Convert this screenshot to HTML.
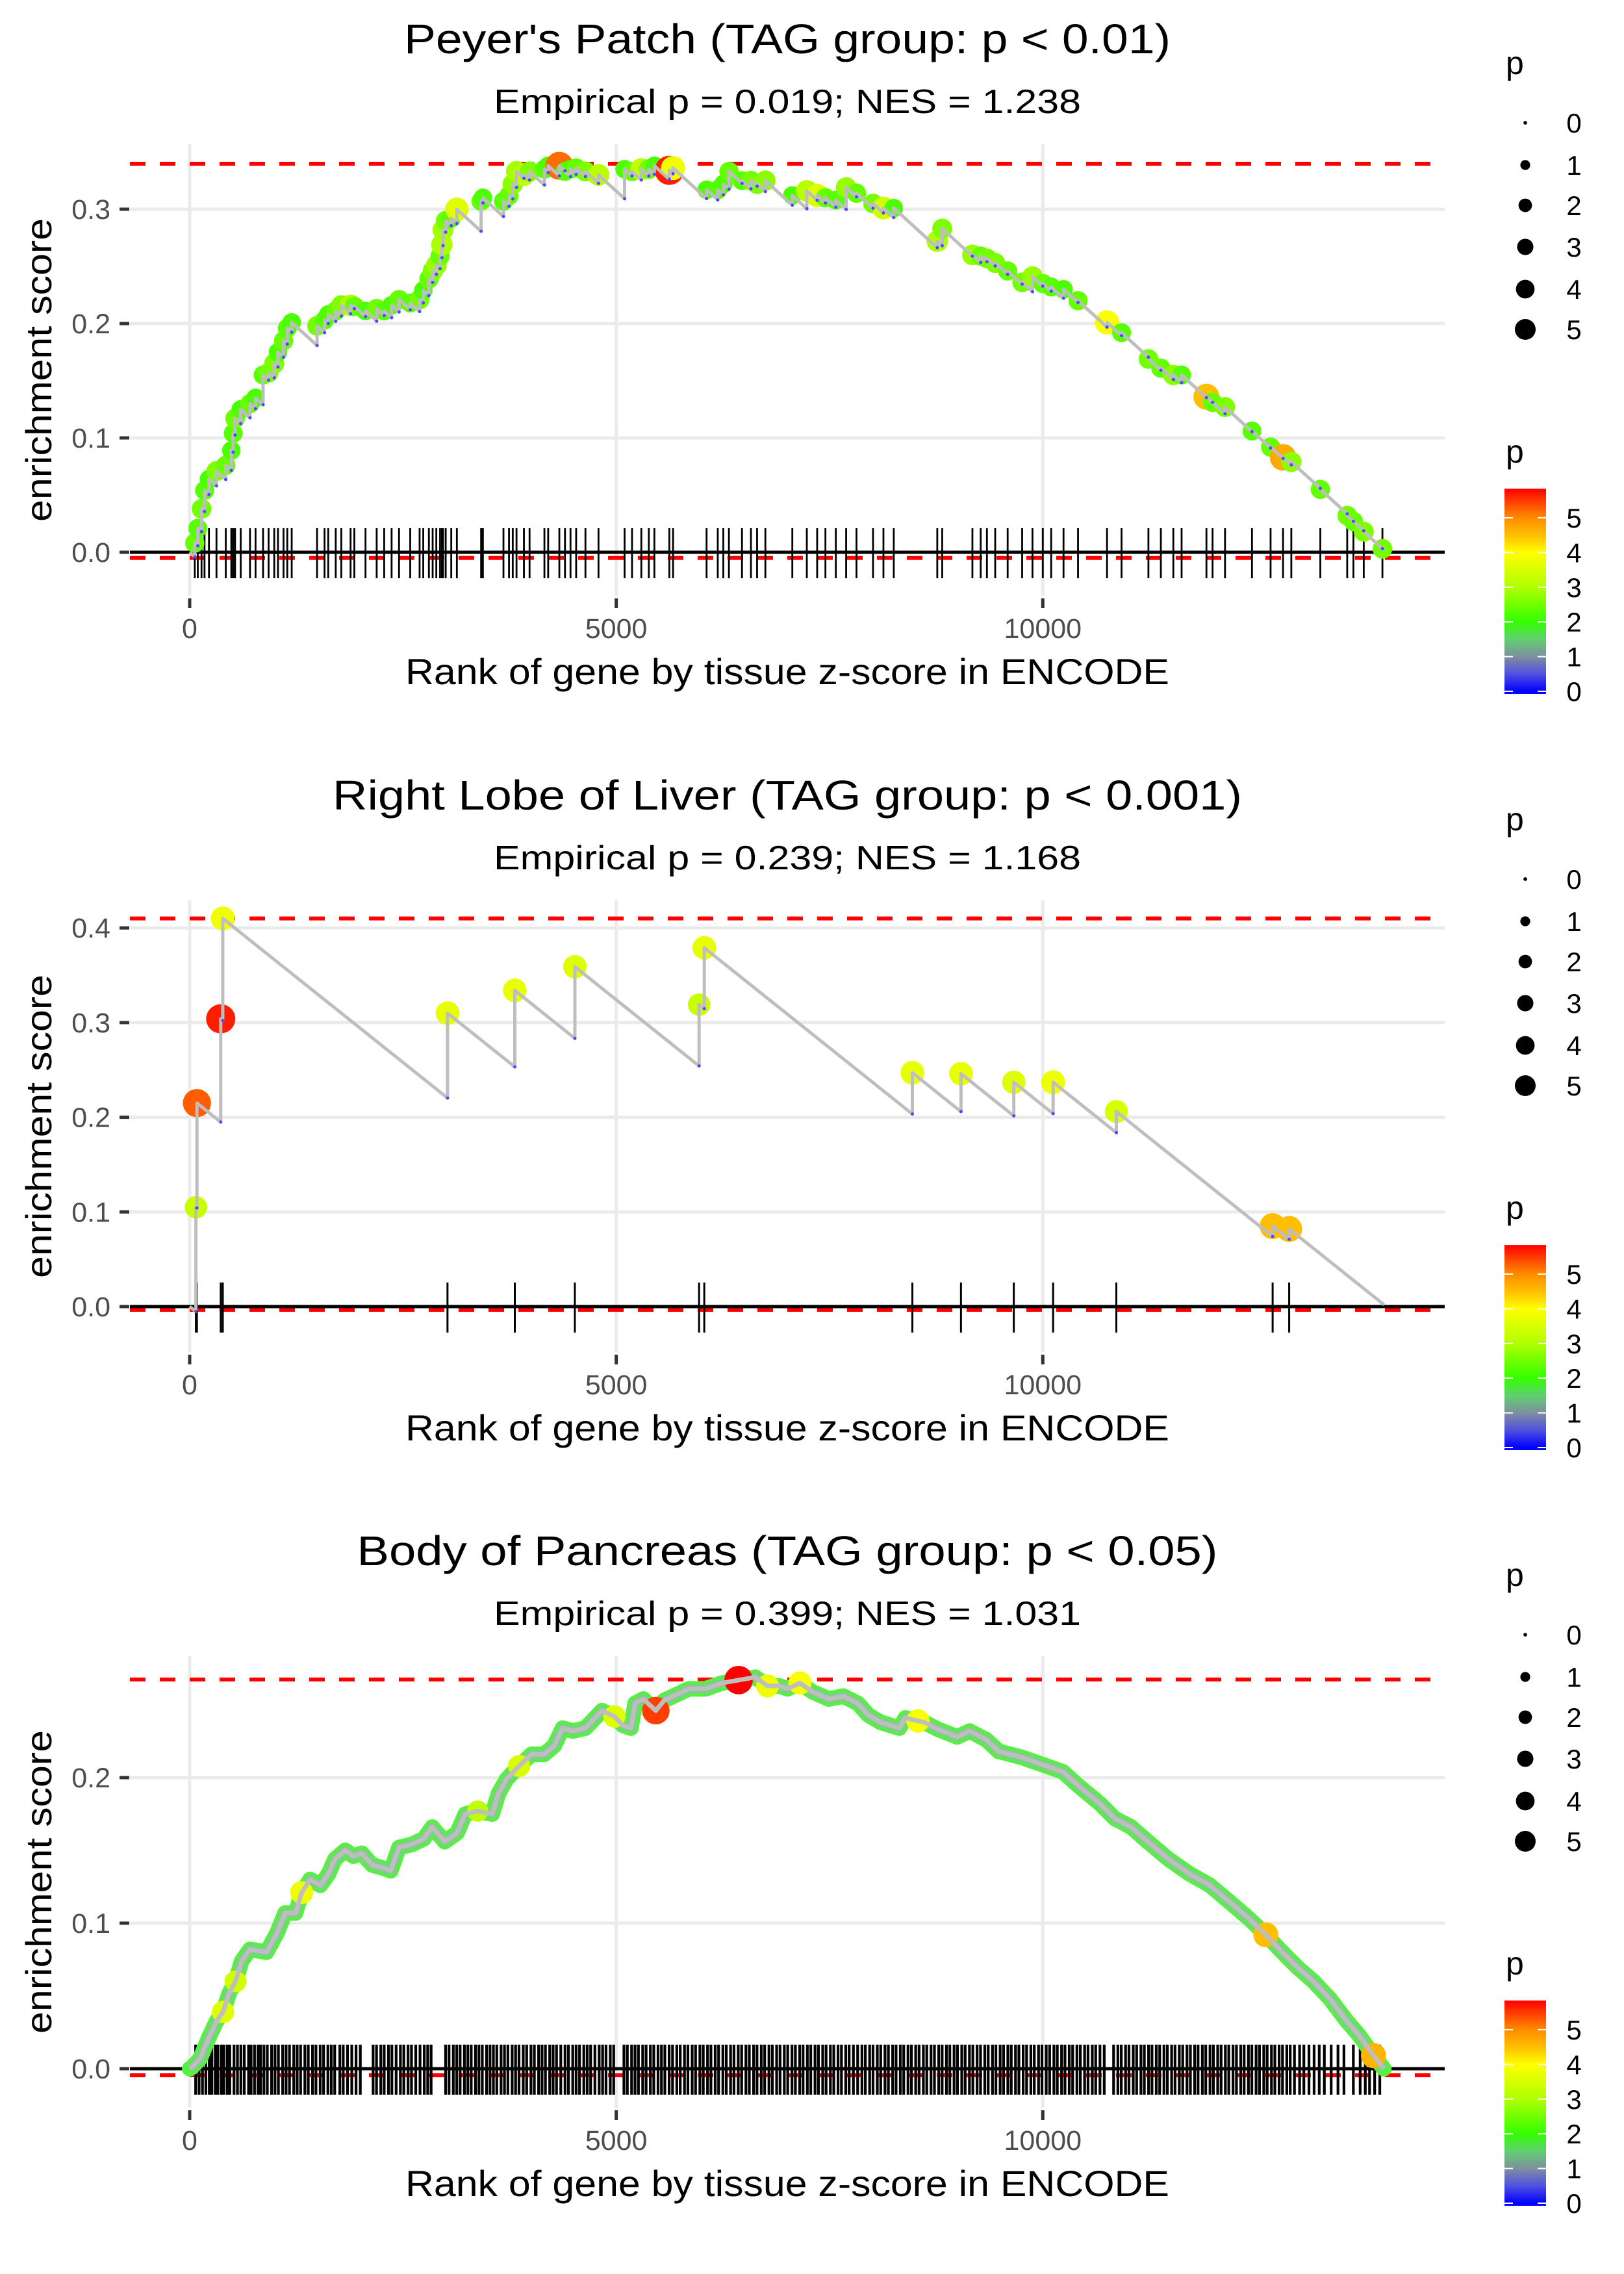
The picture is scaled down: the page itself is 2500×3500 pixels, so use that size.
<!DOCTYPE html>
<html><head><meta charset="utf-8"><style>
html,body{margin:0;padding:0;background:#fff;}
svg{display:block;font-family:"Liberation Sans",sans-serif;}
</style></head><body>
<svg id="chart" xmlns="http://www.w3.org/2000/svg" width="2500" height="3500" viewBox="0 0 2500 3500">
<rect x="0" y="0" width="2500" height="3500" fill="#fff"/>
<g id="layer"></g>
</svg>
<script>
// ---------- data ----------
const xTicks = [0, 5000, 10000];
const xTickLabels = ["0", "5000", "10000"];
const titles = ["Peyer's Patch (TAG group: p < 0.01)", "Right Lobe of Liver (TAG group: p < 0.001)", "Body of Pancreas (TAG group: p < 0.05)"];
const titleWidths = [1180, 1400, 1325];
const subtitles = ["Empirical p = 0.019; NES = 1.238", "Empirical p = 0.239; NES = 1.168", "Empirical p = 0.399; NES = 1.031"];
const yTicks1 = [0.0, 0.1, 0.2, 0.3];
const yTicks2 = [0.0, 0.1, 0.2, 0.3, 0.4];
const yTicks3 = [0.0, 0.1, 0.2];
const maxES = [0.3398, 0.410, 0.2674];
const minES = [-0.005, -0.0034, -0.0045];
const totalGenes = 14000;
const missPenalty = [0.000068, 0.000072];

const ranks1 = [60,95,139,174,226,314,423,488,510,532,598,707,772,860,925,991,1035,1100,1144,1196,1493,1581,1624,1712,1777,1886,1930,2061,2192,2280,2367,2454,2585,2695,2738,2804,2848,2891,2935,2957,2970,3001,3066,3132,3416,3437,3678,3743,3787,3831,3918,3984,4158,4202,4333,4399,4464,4530,4639,4792,5098,5185,5294,5382,5447,5622,5666,6059,6190,6255,6321,6474,6579,6651,6748,7064,7234,7355,7452,7574,7695,7816,8010,8132,8253,8763,8821,9175,9272,9345,9442,9588,9758,9879,10000,10098,10243,10413,10753,10923,11238,11384,11530,11627,11918,11990,12136,12452,12670,12816,12913,13253,13568,13641,13762,13981];
const es1 = [0.008,0.021,0.038,0.054,0.064,0.071,0.076,0.089,0.104,0.117,0.125,0.130,0.135,0.155,0.157,0.165,0.175,0.185,0.196,0.201,0.198,0.203,0.208,0.211,0.216,0.216,0.215,0.211,0.213,0.211,0.216,0.221,0.218,0.221,0.229,0.239,0.246,0.251,0.259,0.269,0.282,0.290,0.292,0.300,0.307,0.310,0.307,0.312,0.322,0.333,0.330,0.333,0.335,0.338,0.338,0.333,0.335,0.336,0.333,0.330,0.335,0.333,0.335,0.335,0.338,0.334,0.336,0.317,0.317,0.322,0.333,0.325,0.325,0.322,0.325,0.312,0.316,0.312,0.310,0.308,0.319,0.314,0.305,0.301,0.301,0.272,0.283,0.260,0.259,0.257,0.253,0.246,0.236,0.241,0.235,0.232,0.230,0.220,0.201,0.192,0.169,0.161,0.155,0.155,0.136,0.131,0.127,0.106,0.092,0.083,0.079,0.055,0.032,0.027,0.018,0.003];
const p1 = [2.4,2.3,2.5,2.3,2.2,2.6,2.4,2.2,2.3,2.5,2.2,2.4,2.2,2.3,2.5,2.6,2.2,2.4,2.3,2.2,2.5,2.3,2.2,2.4,2.6,3.0,2.4,2.2,2.5,2.3,2.2,2.4,2.3,2.5,2.2,2.4,2.6,2.8,2.4,3.0,2.9,2.5,2.3,3.6,2.4,2.2,2.3,2.4,2.7,2.9,3.2,2.6,2.3,2.2,5.2,2.3,2.2,2.4,2.6,3.1,2.2,2.4,3.2,2.5,2.2,5.7,3.8,2.2,2.3,2.2,2.4,2.3,2.5,2.6,2.7,2.2,3.1,3.6,2.4,2.3,2.8,2.4,2.5,3.4,2.2,3.0,2.6,2.8,2.4,2.5,2.6,2.4,2.5,2.8,2.4,2.3,2.2,2.4,3.9,2.3,2.5,2.4,2.7,2.3,4.5,2.4,2.6,2.3,2.4,4.7,2.7,2.4,2.5,2.4,2.6,2.5];

const ranks2 = [73,85,364,388,3022,3811,4515,5971,6032,8471,9041,9660,10121,10862,12694,12888];
const es2 = [0.105,0.215,0.304,0.410,0.310,0.334,0.359,0.319,0.379,0.247,0.246,0.237,0.237,0.206,0.085,0.082];
const p2 = [3.3,5.3,5.7,3.8,3.7,3.7,3.6,3.3,3.7,3.7,3.7,3.6,3.8,3.5,4.5,4.5];

const ranks3 = [27,124,221,318,391,464,537,610,707,804,901,1022,1119,1241,1313,1411,1532,1629,1702,1823,1920,2017,2139,2260,2357,2454,2600,2745,2843,2989,3134,3231,3376,3546,3619,3716,3862,4007,4153,4274,4371,4492,4638,4833,4978,5075,5172,5221,5318,5464,5561,5706,5852,6046,6240,6434,6629,6774,6910,7007,7153,7298,7492,7662,7832,7954,8099,8318,8390,8536,8609,8779,8997,9143,9337,9483,9749,10041,10235,10405,10672,10842,11036,11230,11473,11716,11958,12201,12419,12614,12808,12978,13172,13366,13560,13706,13876,13997];
const es3 = [0.001,0.007,0.021,0.033,0.039,0.052,0.060,0.074,0.082,0.081,0.080,0.093,0.107,0.107,0.121,0.130,0.126,0.134,0.144,0.150,0.146,0.148,0.140,0.138,0.136,0.152,0.154,0.158,0.166,0.156,0.162,0.175,0.177,0.175,0.189,0.199,0.208,0.216,0.216,0.222,0.234,0.232,0.234,0.246,0.242,0.236,0.234,0.251,0.254,0.246,0.253,0.257,0.261,0.261,0.265,0.267,0.269,0.263,0.263,0.261,0.265,0.259,0.254,0.256,0.251,0.243,0.238,0.234,0.241,0.239,0.238,0.233,0.228,0.232,0.226,0.218,0.214,0.208,0.204,0.195,0.182,0.172,0.166,0.156,0.144,0.134,0.126,0.114,0.103,0.092,0.080,0.070,0.060,0.048,0.033,0.023,0.009,0.0];
const p3 = [2.2,2.0,2.3,2.0,3.6,2.1,3.4,2.0,2.2,2.0,2.1,2.0,2.2,2.0,3.8,2.1,2.0,2.2,2.1,2.0,1.8,2.0,1.9,2.0,1.8,2.2,2.0,1.9,2.1,2.0,2.0,2.2,3.2,2.0,2.3,2.0,3.5,2.1,2.0,2.2,2.4,2.0,2.1,2.6,3.6,2.0,2.1,2.2,2.0,5.5,2.0,2.3,2.1,2.0,2.2,5.9,2.3,3.8,2.0,2.1,3.9,2.0,1.9,2.2,2.0,1.9,2.0,2.4,2.6,3.9,2.0,2.2,2.3,2.5,2.0,1.9,2.8,2.0,2.2,2.0,2.1,1.9,2.0,2.1,2.0,1.9,2.2,2.0,2.1,4.5,2.0,2.2,2.0,1.9,2.1,2.0,4.6,2.2];

const rug3 = [70,110,150,190,230,260,300,330,370,400,440,470,520,560,600,640,690,720,760,800,830,870,910,960,1000,1040,1090,1130,1170,1220,1260,1300,1350,1390,1440,1480,1530,1570,1620,1660,1700,1760,1800,1850,1900,1950,2000,2150,2190,2240,2280,2330,2370,2420,2470,2510,2560,2600,2650,2700,2750,2790,2830,3000,3040,3090,3130,3170,3220,3260,3300,3350,3390,3430,3480,3520,3560,3600,3650,3690,3730,3780,3820,3860,3910,3950,4000,4040,4090,4130,4170,4220,4260,4300,4350,4400,4440,4490,4530,4570,4620,4660,4700,4750,4800,4840,4880,4930,4970,5090,5130,5180,5220,5260,5310,5350,5400,5440,5490,5530,5570,5620,5660,5710,5750,5800,5840,5890,5930,5980,6020,6070,6110,6160,6200,6250,6290,6340,6380,6430,6470,6520,6560,6610,6650,6700,6740,6790,6830,6880,6920,6970,7010,7060,7100,7150,7190,7240,7280,7330,7370,7420,7460,7510,7550,7600,7640,7690,7730,7780,7830,7880,7920,7970,8010,8060,8100,8150,8190,8240,8280,8330,8370,8420,8460,8510,8550,8600,8640,8690,8730,8780,8820,8870,8910,8960,9000,9050,9090,9140,9180,9230,9270,9320,9360,9410,9450,9500,9540,9590,9630,9680,9720,9770,9810,9860,9900,9950,9990,10040,10080,10130,10170,10220,10260,10310,10350,10400,10440,10490,10530,10580,10620,10670,10720,10830,10880,10920,10970,11010,11060,11100,11150,11190,11240,11280,11330,11370,11420,11460,11510,11550,11600,11640,11690,11730,11780,11820,11870,11910,11960,12000,12050,12090,12140,12180,12230,12270,12320,12360,12410,12450,12500,12540,12590,12630,12680,12720,12770,12810,12860,12900,12950,13010,13060,13120,13180,13240,13300,13380,13460,13530,13640,13720,13780,13830,13890,13950];

const sizeLegendValues = [0, 1, 2, 3, 4, 5];
const colorLegendValues = [0, 1, 2, 3, 4, 5];

// ---------- layout ----------
const NS = "http://www.w3.org/2000/svg";
const layer = document.getElementById("layer");
const PX0 = 200, PX1 = 2224;
const panels = [
  {off: 0,    zero: 850,  per: 1760, top: 222,  bot: 917},
  {off: 1164, zero: 2011, per: 1457, top: 1386, bot: 2081},
  {off: 2327, zero: 3184, per: 2240, top: 2549, bot: 3244}
];
function xScale(r) { return 292 + r * 0.13133; }
function yScale(pi, v) { return panels[pi].zero - v * panels[pi].per; }
function rScale(p) { return Math.sqrt(9 + 55 * Math.max(p, 0)); }
const cStops = [[0,[0,0,255]],[0.5,[80,80,224]],[1,[127,143,159]],[1.5,[95,207,111]],[2,[51,255,0]],[3,[176,255,0]],[4,[255,255,0]],[4.5,[255,190,0]],[5,[255,140,0]],[5.9,[255,0,0]]];
function color(p) {
  if (p <= cStops[0][0]) return "rgb(0,0,255)";
  for (let i = 1; i < cStops.length; i++) {
    if (p <= cStops[i][0]) {
      const a = cStops[i-1], b = cStops[i], t = (p - a[0]) / (b[0] - a[0]);
      const c = a[1].map((v, k) => Math.round(v + (b[1][k] - v) * t));
      return "rgb(" + c.join(",") + ")";
    }
  }
  return "rgb(255,0,0)";
}
function mk(tag, attrs, parent) {
  const e = document.createElementNS(NS, tag);
  for (const k in attrs) e.setAttribute(k, attrs[k]);
  (parent || layer).appendChild(e);
  return e;
}
function txt(s, attrs, parent) { const e = mk("text", attrs, parent); e.textContent = s; return e; }

function drawFrame(pi, yTicks) {
  const P = panels[pi];
  const g = mk("g", {});
  
  
  yTicks.forEach(v => {
    const l = mk("line", {x1: PX0, x2: PX1, y1: yScale(pi, v), y2: yScale(pi, v), stroke: "#ebebeb", "stroke-width": 5}, g);
    
    
    const t = mk("line", {x1: 184, x2: 199, y1: yScale(pi, v), y2: yScale(pi, v), stroke: "#333", "stroke-width": 5}, g);
    
    
    const lb = txt(v.toFixed(1), {x: 170, y: yScale(pi, v) + 15, "text-anchor": "end", "font-size": 43, fill: "#4d4d4d"}, g);
    
    
  });
  xTicks.forEach((v, i) => {
    const l = mk("line", {x1: xScale(v), x2: xScale(v), y1: P.top, y2: P.bot, stroke: "#ebebeb", "stroke-width": 5}, g);
    
    
    const t = mk("line", {x1: xScale(v), x2: xScale(v), y1: P.bot + 4, y2: P.bot + 19, stroke: "#333", "stroke-width": 5}, g);
    
    
    const lb = txt(xTickLabels[i], {x: xScale(v), y: 982 + P.off, "text-anchor": "middle", "font-size": 43, fill: "#4d4d4d"}, g);
    
    
  });
  const tt = txt(titles[pi], {x: 1212, y: 82 + P.off, "text-anchor": "middle", "font-size": 64, fill: "#000", textLength: titleWidths[pi], lengthAdjust: "spacingAndGlyphs"}, g);
  
  
  const st = txt(subtitles[pi], {x: 1212, y: 174 + P.off, "text-anchor": "middle", "font-size": 52, fill: "#000", textLength: 904, lengthAdjust: "spacingAndGlyphs"}, g);
  
  
  const xt = txt("Rank of gene by tissue z-score in ENCODE", {x: 1212, y: 1053 + P.off, "text-anchor": "middle", "font-size": 56, fill: "#000", textLength: 1176, lengthAdjust: "spacingAndGlyphs"}, g);
  
  
  const cy = (P.top + P.bot) / 2;
  const yt = txt("enrichment score", {x: 0, y: 0, transform: "translate(79," + cy + ") rotate(-90)", "text-anchor": "middle", "font-size": 56, fill: "#000", textLength: 467, lengthAdjust: "spacingAndGlyphs"}, g);
  
  
  return g;
}
function drawRefLines(pi, g) {
  [maxES[pi], minES[pi]].forEach(v => {
    const l = mk("line", {x1: PX0, x2: PX1, y1: yScale(pi, v), y2: yScale(pi, v), stroke: "#ff0000", "stroke-width": 6, "stroke-dasharray": "24,22"}, g);
    
    
  });
  const z = mk("line", {x1: PX0, x2: PX1, y1: yScale(pi, 0), y2: yScale(pi, 0), stroke: "#000", "stroke-width": 5}, g);
  
  
}
function drawRug(pi, ranks, g, w) {
  ranks.forEach(r => {
    const l = mk("line", {x1: xScale(r), x2: xScale(r), y1: yScale(pi, 0) - 37, y2: yScale(pi, 0) + 40, stroke: "#000", "stroke-width": w}, g);
    
    
  });
}
function drawStepPanel(pi, ranks, es, ps, pen, g) {
  let d = "M" + xScale(0) + "," + yScale(pi, 0);
  let prevR = 0, prevE = 0;
  const troughs = [];
  ranks.forEach((r, i) => {
    const tr = prevE - pen * (r - prevR);
    troughs.push([r, tr]);
    d += " L" + xScale(r) + "," + yScale(pi, tr) + " L" + xScale(r) + "," + yScale(pi, es[i]);
    prevR = r; prevE = es[i];
  });
  d += " L" + xScale(totalGenes) + "," + yScale(pi, Math.max(0, prevE - pen * (totalGenes - prevR)));
  ranks.forEach((r, i) => {
    const c = mk("circle", {cx: xScale(r), cy: yScale(pi, es[i]), r: rScale(ps[i]) * 1.25, fill: color(ps[i])}, g);
    
    
  });
  const path = mk("path", {d: d, fill: "none", stroke: "#bebebe", "stroke-width": 5, "stroke-linejoin": "round"}, g);
  
  
  troughs.forEach(t => {
    const c = mk("circle", {cx: xScale(t[0]), cy: yScale(pi, t[1]), r: 2.5, fill: "#4a4aff"}, g);
    
    
  });
}
function drawSmoothPanel(pi, ranks, es, ps, g) {
  let d = "M" + xScale(0) + "," + yScale(pi, 0);
  ranks.forEach((r, i) => { d += " L" + xScale(r) + "," + yScale(pi, es[i]); });
  const band = mk("path", {d: d, fill: "none", stroke: "#55f040", "stroke-width": 24, "stroke-linejoin": "round", "stroke-linecap": "round"}, g);
  
  
  const band2 = mk("path", {d: d, fill: "none", stroke: "#7ccf86", "stroke-width": 15, "stroke-linejoin": "round"}, g);
  
  
  ranks.forEach((r, i) => {
    if (ps[i] < 3) return;
    const c = mk("circle", {cx: xScale(r), cy: yScale(pi, es[i]), r: rScale(ps[i]) * 1.2, fill: color(ps[i])}, g);
    
    
  });
  const path = mk("path", {d: d, fill: "none", stroke: "#bebebe", "stroke-width": 7, "stroke-linejoin": "round"}, g);
  
  
}
function drawLegends(pi) {
  const off = panels[pi].off;
  const g = mk("g", {});
  
  
  const t1 = txt("p", {x: 2318, y: 114 + off, "font-size": 50, fill: "#000"}, g);
  
  
  const sy = [189, 254, 316, 380, 445, 507];
  sizeLegendValues.forEach((v, i) => {
    const c = mk("circle", {cx: 2348, cy: sy[i] + off, r: rScale(v) * 0.95, fill: "#000"}, g);
    
    
    const t = txt(String(v), {x: 2423, y: sy[i] + off + 15, "text-anchor": "middle", "font-size": 42, fill: "#000"}, g);
    
    
  });
  const t2 = txt("p", {x: 2318, y: 712 + off, "font-size": 50, fill: "#000"}, g);
  
  
  const y0 = 1064 + off, unit = 53.4, vmax = 5.84;
  const gid = "grad" + pi;
  const defs = mk("defs", {}, g);
  const lg = mk("linearGradient", {id: gid, x1: 0, y1: y0, x2: 0, y2: y0 - vmax * unit, gradientUnits: "userSpaceOnUse"}, defs);
  cStops.forEach(s => { mk("stop", {offset: Math.min(1, s[0] / vmax), "stop-color": "rgb(" + s[1].join(",") + ")"}, lg); });
  const bar = mk("rect", {x: 2316, y: y0 - vmax * unit, width: 64, height: vmax * unit + 4, fill: "url(#" + gid + ")"}, g);
  
  
  colorLegendValues.forEach(v => {
    const yy = y0 - v * unit;
    mk("line", {x1: 2316, x2: 2329, y1: yy, y2: yy, stroke: "#fff", "stroke-width": 2}, g);
    mk("line", {x1: 2367, x2: 2380, y1: yy, y2: yy, stroke: "#fff", "stroke-width": 2}, g);
    const t = txt(String(v), {x: 2423, y: yy + 15, "text-anchor": "middle", "font-size": 42, fill: "#000"}, g);
    
    
  });
}

const g1 = drawFrame(0, yTicks1);
drawRefLines(0, g1);
drawRug(0, ranks1, g1, 2.8);
drawStepPanel(0, ranks1, es1, p1, missPenalty[0], g1);
drawLegends(0);

const g2 = drawFrame(1, yTicks2);
drawRefLines(1, g2);
drawRug(1, ranks2, g2, 3);
drawStepPanel(1, ranks2, es2, p2, missPenalty[1], g2);
drawLegends(1);

const g3 = drawFrame(2, yTicks3);
drawRefLines(2, g3);
drawRug(2, rug3, g3, 4.2);
drawSmoothPanel(2, ranks3, es3, p3, g3);
drawLegends(2);
</script>
</body></html>
